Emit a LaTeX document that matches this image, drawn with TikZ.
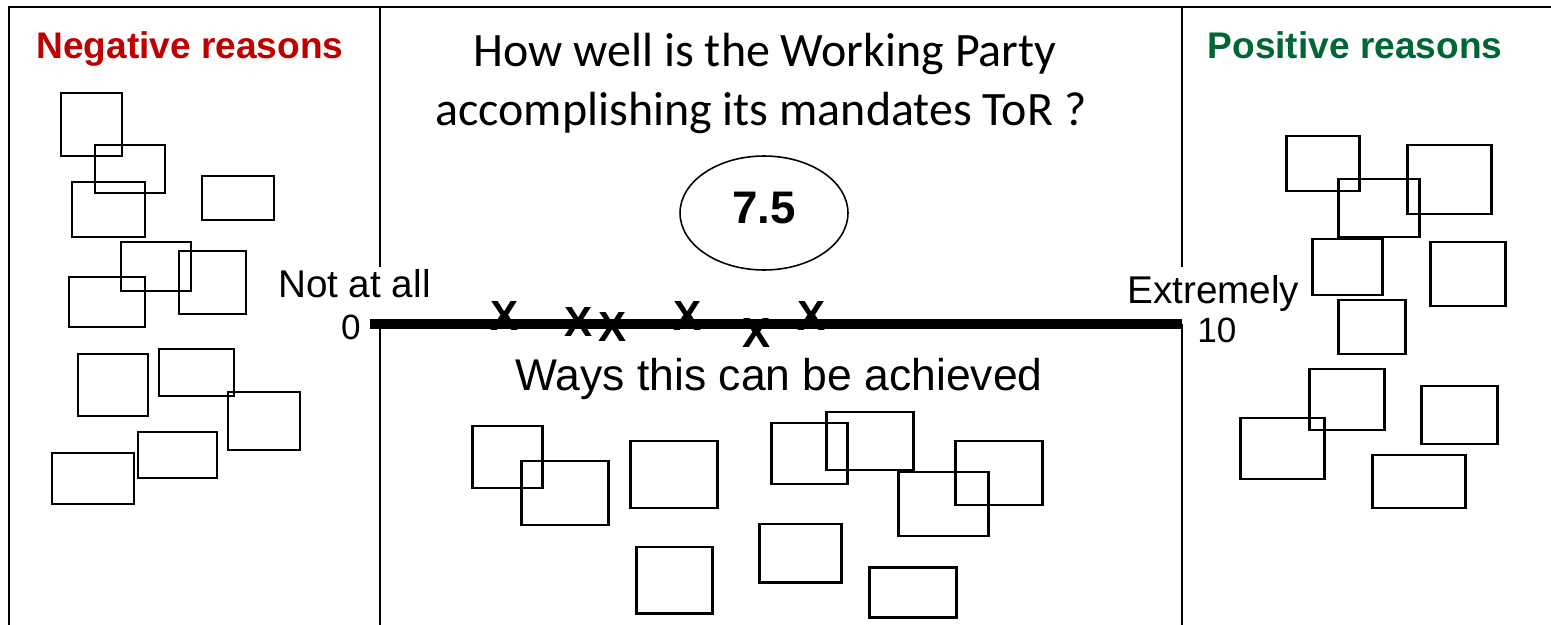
\documentclass[tikz,border=0pt]{standalone}
\usepackage{fontspec}
\setmainfont{Liberation Sans}
\newfontfamily\calibri{Carlito}
\usepackage{tikz}
\usetikzlibrary{shapes,positioning}
\definecolor{negred}{RGB}{192,0,0}
\definecolor{posgreen}{RGB}{0,102,51}

\begin{document}
\begin{tikzpicture}[x=0.02cm,y=-0.02cm,
          frame/.style={draw,line width=1.6pt},
          card/.style={draw,line width=1.7pt},
          head/.style={font=\bfseries\fontsize{21.1}{24}\selectfont,inner sep=0},
          question/.style={font=\calibri\fontsize{27.3}{32}\selectfont,inner sep=0,anchor=base},
          endlab/.style={font=\fontsize{22}{26}\selectfont,inner sep=0},
          digit/.style={font=\fontsize{20}{24}\selectfont,inner sep=0},
          xmark/.style={font=\bfseries\fontsize{24}{24}\selectfont,inner sep=0},
          bar/.style={draw,line width=5.7pt}
        ]
        \useasboundingbox (0,0) rectangle (1551,625);

        %frame
        \draw[frame] (1551,7) -- (9,7) -- (9,625);
        \draw[frame] (380,7) -- (380,267);
        \draw[frame] (380,324) -- (380,625);
        \draw[frame] (1182,7) -- (1182,267);
        \draw[frame] (1182,324) -- (1182,625);

        %headings
        \node[head,text=negred,anchor=base] (neg) at (190,59) {Negative reasons};
        \node[head,text=posgreen,anchor=base] (pos) at (1355,59) {Positive reasons};
        \node[question] (q1) at (765,67) {How well is the Working Party};
        \node[question] (q2) at (761,126) {accomplishing its mandates ToR ?};

        %score
        \node[draw,ellipse,line width=0.9pt,minimum width=3.36cm,minimum height=2.28cm,inner sep=0,
              font=\bfseries\fontsize{26}{26}\selectfont,text height=18.8pt,text depth=7.4pt] (score) at (764,213) {7.5};

        %scale
        \node[endlab,anchor=base east] (notatall) at (431,297) {Not at all};
        \node[endlab,anchor=base west] (extremely) at (1127,303) {Extremely};
        \node[digit,anchor=east] (zero) at (361,327) {0};
        \node[digit,anchor=west] (ten) at (1197,330) {10};
        \foreach \x/\y [count=\i] in {505/316,579/322,613/327,688/316,757/333,812/316}
          \node[xmark] (x\i) at (\x,\y) {X};
        \draw[bar] (370,324) -- (1182,324);
        \node[font=\fontsize{25.3}{30}\selectfont,inner sep=0,anchor=base] (ways) at (779,390) {Ways this can be achieved};

        %negative cards
        \foreach \a/\b/\c/\d in {61/93/122/156,95/145/165/193,72/182/145/237,202/176/274/220,
            121/242/191/291,179/251/246/314,69/277/145/327,78/354/148/416,159/349/234/396,
            228/392/300/450,138/432/217/478,52/453/134/504}
          \draw[card] (\a,\b) rectangle (\c,\d);

        %ways cards
        \foreach \a/\b/\c/\d in {472/426/542/488,521/461/608/525,630/441/717/508,636/547/712/613,
            771/423/847/484,826/412/913/470,759/524/841/582,898/472/988/536,955/441/1042/505,
            869/567/956/617}
          \draw[card] (\a,\b) rectangle (\c,\d);

        %positive cards
        \foreach \a/\b/\c/\d in {1286/136/1359/191,1407/145/1491/214,1338/179/1419/237,1312/239/1382/295,
            1430/242/1505/306,1338/300/1405/354,1309/369/1384/430,1421/386/1497/444,1240/418/1324/479,
            1372/455/1465/508}
          \draw[card] (\a,\b) rectangle (\c,\d);
    \end{tikzpicture}
\end{document}
